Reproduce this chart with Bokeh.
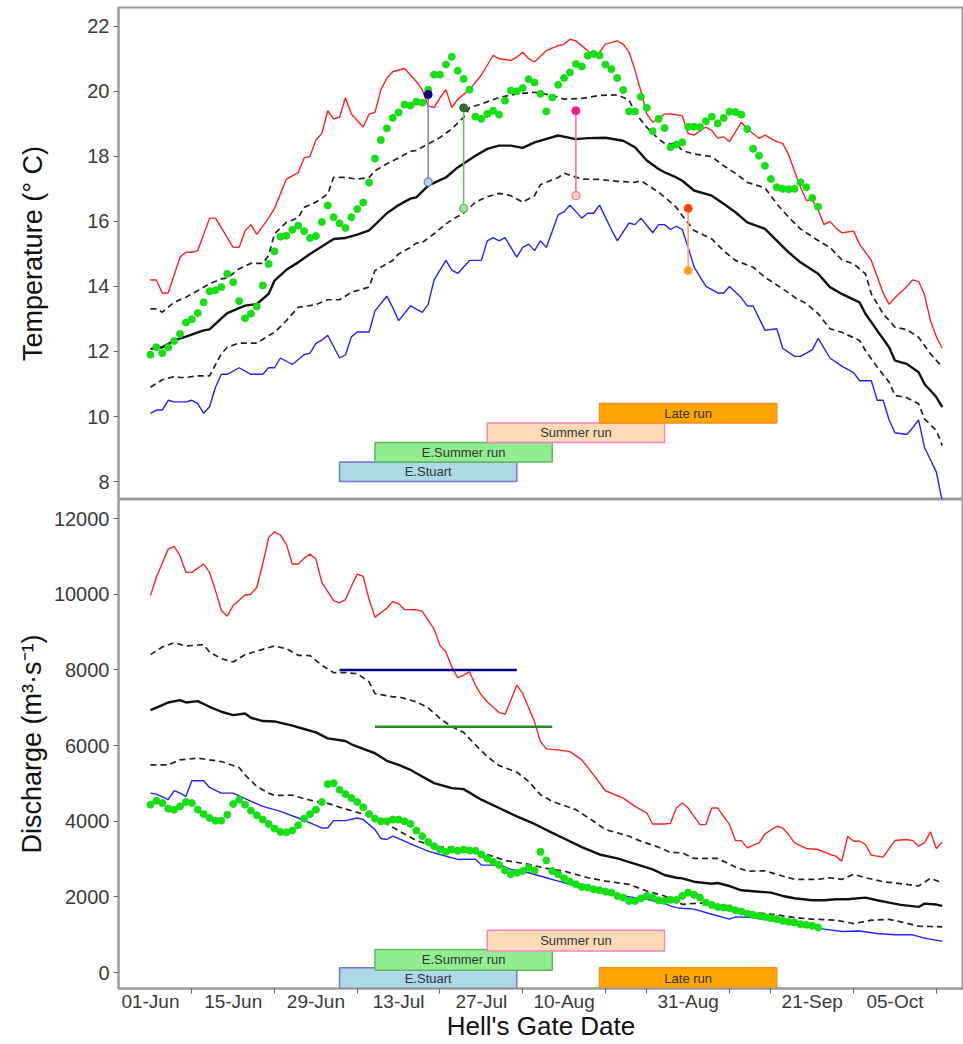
from bokeh.plotting import figure
from bokeh.layouts import column
from bokeh.models import Range1d, FixedTicker
from bokeh.core.properties import value
from bokeh.embed import file_html
from bokeh.resources import INLINE

# ---------------- x axis: days after 01-Jun (Hell's Gate date) ----------------
date_tick_days = [0, 14, 28, 42, 56, 70, 91, 112, 126]
date_tick_labels = ["01-Jun", "15-Jun", "29-Jun", "13-Jul", "27-Jul", "10-Aug", "31-Aug", "21-Sep", "05-Oct"]
minor_tick_days = [7, 21, 35, 49, 63, 77, 84, 98, 105, 119, 133]

# ---------------- temperature (deg C): (day, value) ----------------
temp_max = [(0,14.2),(1,14.2),(2,13.8),(3,13.8),(5,14.9),(6,15.05),(7,15.05),(8,15.1),(10,16.1),(11,16.1),
            (12,15.8),(14,15.2),(15,15.2),(16,15.7),(17,15.9),(18,15.6),(20,16.1),(21,16.4),(23,17.3),(25,17.5),
            (26,17.95),(27,18.0),(28,18.5),(29,18.7),(30,19.4),(31,19.15),(32,19.2),(33,19.8),(34,19.3),(36,18.9),
            (37,19.3),(38,19.35),(39,20.05),(40,20.4),(41,20.6),(43,20.7),(45,20.3),(46,20.05),(47,19.55),(48,19.5),
            (49,19.8),(50,20.05),(51,19.5),(52,19.75),(54,20.05),(56,20.5),(57,20.8),(58,21.1),(59,21.0),(61,20.95),
            (62,21.05),(63,21.2),(64,21.0),(65,20.9),(67,21.25),(69,21.4),(70,21.45),(71,21.6),(72,21.55),(74,21.25),
            (75,21.05),(76,21.2),(77,21.45),(79,21.55),(80,21.45),(81,21.2),(82,20.65),(83,20.0),(84,19.3),(85,19.05),
            (86,19.15),(87,19.3),(88,19.3),(90,19.25),(91,18.7),(92,18.65),(94,18.9),(95,18.8),(96,18.55),(97,18.6),
            (98,18.45),(100,19.05),(101,18.85),(103,18.55),(104,18.65),(106,18.45),(107,18.4),(108,18.05),(109,17.55),
            (110,17.05),(111,16.65),(112,16.65),(113,16.35),(114,15.9),(115,16.0),(116,15.8),(117,15.65),(119,15.7),
            (120,15.3),(122,14.8),(123,14.3),(124,13.8),(125,13.45),(126,13.65),(128,14.0),(129,14.2),(130,14.15),
            (131,13.75),(132,12.95),(133,12.45),(134,12.1)]
temp_min = [(0,10.1),(1,10.2),(2,10.2),(3,10.5),(4,10.45),(6,10.45),(7,10.5),(8,10.4),(9,10.1),(10,10.3),
            (11,10.9),(12,11.3),(13,11.3),(15,11.5),(17,11.3),(19,11.3),(20,11.5),(21,11.5),(22,11.8),(24,11.6),
            (26,11.9),(27,11.95),(28,12.25),(29,12.35),(30,12.5),(32,11.8),(33,11.9),(34,12.45),(35,12.6),(37,12.6),
            (38,13.25),(40,13.7),(41,13.35),(42,12.95),(44,13.4),(46,13.2),(47,13.45),(48,14.2),(50,14.8),(51,14.5),
            (52,14.4),(54,14.8),(56,14.8),(57,15.4),(58,15.5),(59,15.4),(60,15.5),(62,14.9),(63,15.2),(64,15.3),
            (65,15.1),(66,15.4),(67,15.2),(69,16.2),(70,16.3),(71,16.5),(73,16.1),(74,16.25),(75,16.25),(76,16.5),
            (78,15.75),(79,15.4),(81,15.95),(82,15.9),(83,16.1),(85,15.65),(86,15.9),(87,15.9),(88,15.75),(89,15.85),
            (90,15.75),(91,15.2),(92,14.6),(94,14.0),(95,13.9),(96,13.8),(97,13.8),(98,14.0),(100,13.65),(101,13.4),
            (102,13.4),(104,12.65),(106,12.7),(107,12.1),(109,11.85),(110,11.85),(112,12.05),(113,12.4),(115,11.8),
            (117,11.55),(119,11.35),(120,11.1),(122,11.1),(123,10.5),(124,10.5),(125,9.9),(126,9.5),(128,9.45),
            (129,9.65),(130,9.9),(131,9.05),(133,8.3),(134,7.4)]
temp_mean = [(0,12.08),(2,12.13),(4,12.34),(6,12.46),(9,12.65),(10,12.68),(12,13.02),(13,13.18),(16,13.41),(18,13.46),
             (20,13.77),(21,14.18),(23,14.51),(25,14.74),(27,15.0),(29,15.23),(31,15.46),(33,15.49),(35,15.59),(37,15.72),
             (40,16.25),(42,16.5),(44,16.7),(45,16.74),(47,17.1),(50,17.35),(52,17.66),(55,18.02),(57,18.23),(59,18.33),
             (61,18.33),(63,18.26),(65,18.43),(69,18.64),(72,18.53),(74,18.56),(77,18.57),(80,18.48),(82,18.28),(84,17.87),
             (86,17.61),(87,17.51),(89,17.35),(90,17.25),(92,16.95),(95,16.79),(97,16.54),(99,16.28),(101,15.97),(104,15.77),
             (106,15.41),(108,15.05),(110,14.74),(113,14.39),(115,13.98),(117,13.77),(120,13.51),(121,13.16),(123,12.64),
             (125,12.13),(126,11.72),(128,11.62),(130,11.36),(131,11.0),(133,10.6),(134,10.29)]
temp_upper = [(0,13.31),(1,13.31),(2,13.21),(4,13.51),(6,13.67),(8,13.87),(10,14.08),(12,14.23),(13,14.26),(15,14.54),
              (17,14.71),(19,14.71),(20,14.95),(21,15.62),(23,15.97),(25,16.11),(26,16.43),(28,16.59),(30,16.84),(31,17.35),
              (33,17.35),(35,17.3),(37,17.35),(38,17.56),(40,17.77),(42,17.95),(44,18.15),(45,18.18),(47,18.38),(49,18.58),
              (51,18.84),(53,19.2),(54,19.5),(56,19.61),(59,19.81),(62,19.92),(65,19.97),(68,19.87),(70,19.76),(73,19.78),
              (76,19.87),(79,19.89),(81,19.73),(82,19.35),(84,18.89),(86,18.53),(87,18.4),(89,18.38),(90,18.18),(92,18.07),
              (95,17.99),(97,17.71),(99,17.48),(101,17.2),(104,17.03),(106,16.54),(108,16.13),(110,15.77),(113,15.41),
              (115,15.2),(117,14.82),(119,14.69),(121,14.39),(122,13.77),(124,13.16),(126,12.75),(128,12.67),(130,12.44),
              (132,11.93),(134,11.52)]
temp_lower = [(0,10.9),(2,11.13),(4,11.23),(5,11.2),(6,11.2),(8,11.25),(10,11.25),(12,11.93),(13,12.13),(15,12.26),
              (18,12.26),(20,12.49),(21,12.59),(23,12.95),(25,13.36),(28,13.44),(30,13.59),(32,13.59),(34,13.82),(37,13.98),
              (38,14.49),(41,14.8),(42,15.0),(44,15.2),(45,15.33),(46,15.35),(48,15.62),(50,15.92),(51,16.05),(53,16.25),
              (55,16.59),(57,16.76),(59,16.86),(61,16.79),(63,16.59),(65,16.79),(66,17.13),(69,17.35),(70,17.48),(73,17.3),
              (76,17.29),(79,17.23),(82,17.2),(83,17.25),(86,16.9),(88,16.59),(89,16.43),(90,16.18),(92,15.72),(95,15.46),
              (97,15.1),(99,14.8),(102,14.59),(104,14.28),(107,13.93),(109,13.67),(111,13.47),(113,13.16),(115,12.7),
              (117,12.59),(120,12.34),(121,12.03),(123,11.52),(125,11.06),(126,10.65),(128,10.58),(130,10.39),(131,9.93),
              (133,9.57),(134,9.11)]
# observed daily temperature, starting 01-Jun
temp_obs = [11.9,12.13,11.95,12.13,12.32,12.54,12.89,12.99,13.18,13.51,
            13.85,13.88,13.98,14.39,14.13,13.55,13.02,13.16,13.38,14.03,
            14.69,15.08,15.53,15.56,15.74,15.87,15.7,15.49,15.55,15.98,
            16.49,16.13,15.94,15.8,16.13,16.38,16.58,17.19,17.93,18.5,
            18.86,19.18,19.35,19.59,19.56,19.68,19.65,20.05,20.51,20.51,
            20.82,21.06,20.63,20.38,20.05,19.22,19.15,19.3,19.4,19.28,
            19.71,20.02,20.0,20.1,20.37,20.27,19.92,19.38,19.81,20.2,
            20.41,20.58,20.84,20.76,21.09,21.15,21.1,20.82,20.68,20.41,
            20.04,19.38,19.38,19.83,19.49,18.77,19.15,18.87,18.28,18.36,
            18.43,18.91,18.91,18.9,19.08,19.22,19.01,19.18,19.37,19.36,
            19.28,18.84,18.23,18.02,17.71,17.3,17.05,17.0,16.99,17.0,
            17.2,17.05,16.72,16.45]

# ---------------- discharge (m3/s): (day, value) ----------------
q_max = [(0,9967),(1,10449),(3,11194),(4,11265),(5,11020),(6,10581),(7,10581),(9,10800),(10,10581),(11,10098),
         (12,9572),(13,9423),(14,9704),(16,9983),(17,10000),(18,10186),(19,10800),(20,11502),(21,11652),(22,11563),
         (23,11326),(24,10800),(25,10800),(26,10949),(27,11063),(28,10931),(29,10317),(31,9835),(32,9773),(33,9862),
         (34,10212),(35,10536),(36,10475),(37,9862),(38,9396),(40,9633),(41,9809),(42,9750),(43,9600),(45,9590),
         (46,9550),(48,9080),(49,8650),(50,8475),(51,8080),(52,7791),(53,7862),(54,7949),(55,7598),(56,7335),
         (57,7159),(59,6878),(60,6825),(61,7204),(62,7598),(63,7377),(65,6633),(66,6106),(67,5914),(69,5887),
         (71,5843),(73,5624),(75,5229),(77,4808),(80,4614),(82,4395),(84,4219),(85,3930),(87,3930),(88,3950),
         (89,4351),(90,4482),(91,4351),(93,3913),(94,3913),(95,4351),(96,4351),(98,3913),(99,3492),(100,3490),
         (101,3299),(103,3430),(104,3667),(106,3869),(107,3825),(108,3650),(109,3430),(111,3282),(113,3255),
         (115,3124),(116,3079),(117,2948),(118,3606),(119,3474),(120,3480),(121,3387),(122,3106),(123,3080),
         (124,3053),(126,3492),(128,3519),(129,3490),(130,3343),(131,3430),(132,3720),(133,3282),(134,3456)]
q_mean = [(0,6940),(2,7072),(3,7141),(5,7204),(6,7141),(8,7177),(10,7027),(12,6896),(14,6808),(16,6850),
          (17,6738),(19,6650),(21,6640),(24,6527),(26,6440),(28,6351),(30,6193),(33,6124),(34,6036),(36,5914),
          (38,5799),(40,5598),(42,5490),(44,5361),(45,5272),(48,5009),(51,4877),(53,4850),(56,4571),(59,4351),
          (62,4132),(65,3930),(68,3693),(70,3545),(73,3316),(76,3124),(79,3019),(82,2877),(85,2729),(87,2580),
          (89,2509),(90,2492),(92,2404),(95,2351),(96,2370),(98,2290),(100,2177),(103,2140),(105,2115),(107,2027),
          (109,1966),(112,1913),(114,1913),(116,1939),(118,1939),(121,1983),(123,1913),(125,1851),(127,1790),
          (130,1737),(131,1824),(133,1800),(134,1763)]
q_upper = [(0,8405),(2,8607),(4,8720),(6,8633),(9,8668),(10,8475),(12,8299),(14,8212),(16,8405),(19,8546),
           (21,8633),(23,8563),(25,8388),(27,8380),(29,8125),(31,7930),(33,7930),(35,7904),(37,7685),(38,7377),
           (41,7290),(42,7290),(45,7159),(47,7001),(49,6720),(51,6501),(53,6351),(55,6019),(57,5711),(59,5475),
           (62,5298),(64,5053),(66,4703),(68,4527),(72,4308),(75,4001),(77,3782),(81,3606),(83,3474),(86,3316),
           (88,3180),(90,3166),(92,3019),(96,3019),(99,2790),(101,2685),(104,2690),(107,2553),(109,2466),(113,2466),
           (115,2509),(117,2466),(119,2598),(121,2509),(124,2404),(128,2334),(130,2290),(132,2492),(134,2377)]
q_lower = [(0,5493),(3,5493),(5,5624),(8,5668),(12,5580),(15,5422),(16,5229),(18,4922),(20,4746),(21,4685),
           (24,4690),(26,4597),(28,4527),(30,4474),(33,4325),(35,4237),(38,4106),(41,3843),(43,3666),(45,3492),
           (48,3343),(51,3299),(55,3193),(57,3124),(60,2966),(64,2861),(67,2756),(70,2685),(74,2509),(77,2421),
           (81,2334),(84,2158),(87,2027),(88,1950),(90,1807),(94,1850),(96,1763),(99,1650),(102,1588),(106,1527),
           (109,1456),(112,1413),(116,1386),(119,1298),(122,1386),(125,1410),(127,1342),(130,1229),(132,1220),(134,1211)]
q_min = [(0,4746),(1,4720),(3,4571),(4,4809),(5,4746),(6,4659),(7,5072),(9,5072),(10,4896),(12,4746),
         (14,4746),(16,4597),(19,4395),(22,4264),(25,4088),(27,3956),(29,3824),(30,3824),(31,4019),(33,4019),
         (35,4088),(36,4050),(38,3780),(39,3545),(40,3520),(41,3606),(43,3474),(44,3403),(47,3211),(49,3124),
         (52,2992),(55,3000),(56,2843),(58,2843),(59,2860),(61,2729),(64,2640),(67,2509),(69,2421),(72,2290),
         (75,2203),(77,2087),(80,2027),(82,1983),(84,1939),(87,1824),(88,1763),(89,1719),(90,1702),(92,1680),
         (95,1544),(98,1413),(99,1474),(102,1456),(105,1386),(108,1325),(110,1237),(114,1150),(117,1087),
         (120,1100),(123,1035),(126,1000),(129,1000),(131,913),(134,825)]
# observed daily discharge, starting 01-Jun
q_obs = [4440,4545,4483,4334,4308,4395,4509,4483,4308,4193,
         4088,4018,4018,4176,4457,4571,4440,4282,4159,4045,
         3930,3808,3720,3710,3755,3895,4071,4193,4308,4509,
         4983,5009,4835,4720,4615,4509,4369,4193,4071,4001,
         4001,4045,4045,4001,3930,3755,3606,3456,3343,3255,
         3193,3255,3220,3255,3230,3220,3124,3019,2930,2843,
         2703,2598,2640,2685,2772,2703,3193,2966,2685,2598,
         2492,2404,2334,2264,2250,2203,2180,2140,2115,2027,
         1983,1895,1895,1960,2027,2000,1913,1895,1925,1920,
         2027,2115,2060,1983,1851,1790,1737,1720,1702,1650,
         1614,1561,1527,1500,1474,1439,1413,1369,1342,1325,
         1281,1265,1237,1193]

# ---------------- run timing windows ----------------
run_names = ["E.Stuart", "E.Summer run", "Summer run", "Late run"]
run_start = [32, 38, 57, 76]
run_end = [62, 68, 87, 106]
run_temp_bottom = [8.0, 8.6, 9.2, 9.8]
run_temp_top = [8.6, 9.2, 9.8, 10.4]
run_q_bottom = [-420, 65, 570, -420]
run_q_top = [130, 615, 1120, 130]
run_fill = ["#ADD8E6", "#90EE90", "#FFDAB9", "#FFA500"]
run_edge = ["#7575CC", "#5DBB5D", "#FF7FBF", "#FF8C1A"]

# run-specific temperature markers
seg_day = [47, 53, 72, 91]
seg_top = [19.9, 19.49, 19.4, 16.4]
seg_bottom = [17.21, 16.4, 16.79, 14.49]
seg_top_color = ["#000080", "#2E6E2E", "#FF1493", "#FF4500"]
seg_bottom_fill = ["#ADD8E6", "#90EE90", "#FFDAB9", "#FFA500"]
seg_line_color = ["#8585CF", "#77B577", "#FF69B4", "#FFA66B"]

# discharge thresholds
thr_q = [8000, 6500]
thr_start = [32, 38]
thr_end = [62, 68]
thr_color = ["#000080", "#228B22"]

FONT = "Liberation Sans"
AXIS_GRAY = "#9a9a9a"


def split(pts):
    return [a for a, _ in pts], [b for _, b in pts]


xr = Range1d(-5.41, 137.6)

p1 = figure(width=963, height=499, x_range=xr, y_range=Range1d(7.45, 22.575),
            x_axis_location=None, output_backend="svg", toolbar_location=None,
            min_border_left=118, min_border_right=0, min_border_top=7, min_border_bottom=0)
p2 = figure(width=963, height=544, x_range=xr, y_range=Range1d(-419, 12506),
            output_backend="svg", toolbar_location=None,
            min_border_left=118, min_border_right=0, min_border_top=0, min_border_bottom=0)

for p in (p1, p2):
    p.xgrid.visible = False
    p.ygrid.visible = False
    p.outline_line_color = AXIS_GRAY
    p.outline_line_width = 2
    p.background_fill_color = "white"
    ax = p.yaxis[0]
    ax.axis_line_color = AXIS_GRAY
    ax.axis_line_width = 2
    ax.major_tick_out = 5
    ax.major_tick_in = 0
    ax.minor_tick_out = 0
    ax.minor_tick_in = 0
    ax.major_tick_line_color = "#666666"
    ax.major_label_text_font = FONT
    ax.major_label_text_font_size = "20px"
    ax.major_label_text_color = "#3a3a3a"
    ax.major_label_standoff = 4
    ax.axis_label_text_font = FONT
    ax.axis_label_text_font_size = "27px"
    ax.axis_label_text_font_style = "normal"
    ax.axis_label_text_color = "#111111"

temp_ticks = [8, 10, 12, 14, 16, 18, 20, 22]
p1.yaxis.ticker = FixedTicker(ticks=temp_ticks)
p1.yaxis.axis_label = "Temperature (° C)"
p1.yaxis.axis_label_standoff = 36

q_ticks = [0, 2000, 4000, 6000, 8000, 10000, 12000]
p2.yaxis.ticker = FixedTicker(ticks=q_ticks)
p2.yaxis.major_label_overrides = {t: str(t) for t in q_ticks}
p2.yaxis.axis_label = "Discharge (m³·s⁻¹)"
p2.yaxis.axis_label_standoff = 4

xa = p2.xaxis[0]
xa.ticker = FixedTicker(ticks=date_tick_days, minor_ticks=minor_tick_days)
xa.major_label_overrides = dict(zip(date_tick_days, date_tick_labels))
xa.axis_line_color = AXIS_GRAY
xa.axis_line_width = 2
xa.major_tick_out = 0
xa.major_tick_in = 0
xa.minor_tick_out = 5
xa.minor_tick_in = 0
xa.minor_tick_line_color = "#666666"
xa.major_label_text_font = FONT
xa.major_label_text_font_size = "19px"
xa.major_label_text_color = "#3a3a3a"
xa.major_label_standoff = -3
xa.axis_label = "Hell's Gate Date"
xa.axis_label_text_font = FONT
xa.axis_label_text_font_size = "26px"
xa.axis_label_text_font_style = "normal"
xa.axis_label_text_color = "#111111"
xa.axis_label_standoff = -4

# ---------------- top panel: temperature ----------------
p1.quad(left=run_start, right=run_end, bottom=run_temp_bottom, top=run_temp_top,
        fill_color=run_fill, line_color=run_edge, line_width=1.5)
p1.text(x=[(s + e) / 2 for s, e in zip(run_start, run_end)],
        y=[(b + t) / 2 for b, t in zip(run_temp_bottom, run_temp_top)],
        text=run_names, text_align="center", text_baseline="middle",
        text_font=value(FONT), text_font_size="13px", text_color="#333333")

d, v = split(temp_max); p1.line(d, v, line_color="#FF2222", line_width=1.4)
d, v = split(temp_min); p1.line(d, v, line_color="#2222FF", line_width=1.4)
d, v = split(temp_upper); p1.line(d, v, line_color="#222222", line_width=1.7, line_dash="6 4")
d, v = split(temp_lower); p1.line(d, v, line_color="#222222", line_width=1.7, line_dash="6 4")
d, v = split(temp_mean); p1.line(d, v, line_color="#111111", line_width=2.4)

p1.scatter(list(range(len(temp_obs))), temp_obs, size=7, fill_color="#14E014", line_color="#14E014")

p1.segment(x0=seg_day, y0=seg_bottom, x1=seg_day, y1=seg_top, line_color=seg_line_color, line_width=1.6)
p1.scatter(seg_day, seg_top, size=8, fill_color=seg_top_color, line_color=seg_top_color)
p1.scatter(seg_day, seg_bottom, size=8, fill_color=seg_bottom_fill, line_color=seg_line_color, line_width=1.3)

# ---------------- bottom panel: discharge ----------------
p2.quad(left=run_start, right=run_end, bottom=run_q_bottom, top=run_q_top,
        fill_color=run_fill, line_color=run_edge, line_width=1.5)
p2.text(x=[(s + e) / 2 for s, e in zip(run_start, run_end)],
        y=[(b + t) / 2 for b, t in zip(run_q_bottom, run_q_top)],
        text=run_names, text_align="center", text_baseline="middle",
        text_font=value(FONT), text_font_size="13px", text_color="#333333")

d, v = split(q_max); p2.line(d, v, line_color="#FF2222", line_width=1.4)
d, v = split(q_min); p2.line(d, v, line_color="#2222FF", line_width=1.4)
d, v = split(q_upper); p2.line(d, v, line_color="#222222", line_width=1.7, line_dash="6 4")
d, v = split(q_lower); p2.line(d, v, line_color="#222222", line_width=1.7, line_dash="6 4")
d, v = split(q_mean); p2.line(d, v, line_color="#111111", line_width=2.4)

p2.segment(x0=thr_start, y0=thr_q, x1=thr_end, y1=thr_q, line_color=thr_color, line_width=2.5)

p2.scatter(list(range(len(q_obs))), q_obs, size=7, fill_color="#14E014", line_color="#14E014")

layout = column(p1, p2, spacing=0)
open("out.html", "w").write(file_html(layout, INLINE))
